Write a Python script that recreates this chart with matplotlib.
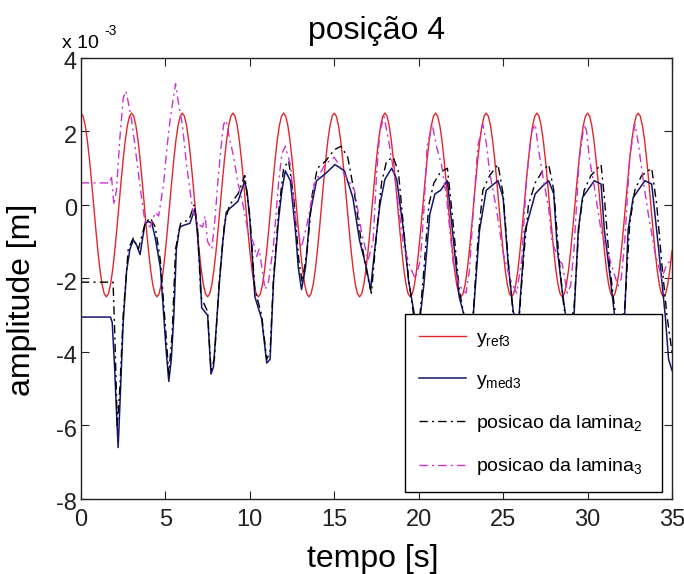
import numpy as np
import matplotlib
matplotlib.use("Agg")
import matplotlib.pyplot as plt
import matplotlib.transforms as mtransforms

plt.rcParams['font.family'] = ['Liberation Sans', 'DejaVu Sans']
plt.rcParams['mathtext.fontset'] = 'custom'
plt.rcParams['mathtext.rm'] = 'Liberation Sans'
plt.rcParams['mathtext.it'] = 'Liberation Sans'

# reference signal y_ref3, sampled every 0.125 s (units of 1e-3 m)
t_ref3 = np.arange(0, 35.001, 0.125)
y_ref3 = [
    2.5, 2.415, 2.165, 1.768, 1.25, 0.647, 0.0, -0.647, -1.25, -1.768, -2.165, -2.415,
    -2.5, -2.415, -2.165, -1.768, -1.25, -0.647, 0.0, 0.647, 1.25, 1.768, 2.165, 2.415,
    2.5, 2.415, 2.165, 1.768, 1.25, 0.647, 0.0, -0.647, -1.25, -1.768, -2.165, -2.415,
    -2.5, -2.415, -2.165, -1.768, -1.25, -0.647, 0.0, 0.647, 1.25, 1.768, 2.165, 2.415,
    2.5, 2.415, 2.165, 1.768, 1.25, 0.647, 0.0, -0.647, -1.25, -1.768, -2.165, -2.415,
    -2.5, -2.415, -2.165, -1.768, -1.25, -0.647, 0.0, 0.647, 1.25, 1.768, 2.165, 2.415,
    2.5, 2.415, 2.165, 1.768, 1.25, 0.647, 0.0, -0.647, -1.25, -1.768, -2.165, -2.415,
    -2.5, -2.415, -2.165, -1.768, -1.25, -0.647, 0.0, 0.647, 1.25, 1.768, 2.165, 2.415,
    2.5, 2.415, 2.165, 1.768, 1.25, 0.647, 0.0, -0.647, -1.25, -1.768, -2.165, -2.415,
    -2.5, -2.415, -2.165, -1.768, -1.25, -0.647, 0.0, 0.647, 1.25, 1.768, 2.165, 2.415,
    2.5, 2.415, 2.165, 1.768, 1.25, 0.647, 0.0, -0.647, -1.25, -1.768, -2.165, -2.415,
    -2.5, -2.415, -2.165, -1.768, -1.25, -0.647, 0.0, 0.647, 1.25, 1.768, 2.165, 2.415,
    2.5, 2.415, 2.165, 1.768, 1.25, 0.647, 0.0, -0.647, -1.25, -1.768, -2.165, -2.415,
    -2.5, -2.415, -2.165, -1.768, -1.25, -0.647, 0.0, 0.647, 1.25, 1.768, 2.165, 2.415,
    2.5, 2.415, 2.165, 1.768, 1.25, 0.647, 0.0, -0.647, -1.25, -1.768, -2.165, -2.415,
    -2.5, -2.415, -2.165, -1.768, -1.25, -0.647, 0.0, 0.647, 1.25, 1.768, 2.165, 2.415,
    2.5, 2.415, 2.165, 1.768, 1.25, 0.647, 0.0, -0.647, -1.25, -1.768, -2.165, -2.415,
    -2.5, -2.415, -2.165, -1.768, -1.25, -0.647, 0.0, 0.647, 1.25, 1.768, 2.165, 2.415,
    2.5, 2.415, 2.165, 1.768, 1.25, 0.647, 0.0, -0.647, -1.25, -1.768, -2.165, -2.415,
    -2.5, -2.415, -2.165, -1.768, -1.25, -0.647, 0.0, 0.647, 1.25, 1.768, 2.165, 2.415,
    2.5, 2.415, 2.165, 1.768, 1.25, 0.647, 0.0, -0.647, -1.25, -1.768, -2.165, -2.415,
    -2.5, -2.415, -2.165, -1.768, -1.25, -0.647, 0.0, 0.647, 1.25, 1.768, 2.165, 2.415,
    2.5, 2.415, 2.165, 1.768, 1.25, 0.647, 0.0, -0.647, -1.25, -1.768, -2.165, -2.415,
    -2.5, -2.415, -2.165, -1.768, -1.25,
]

# measured position y_med3: (time [s], value [1e-3 m])
med3 = [
    (0, -3.05), (1.75, -3.05), (1.85, -3.2), (2.0, -4.5), (2.1, -5.6), (2.2, -6.6),
    (2.3, -5.5), (2.5, -3.2), (2.7, -1.8), (2.9, -1.2), (3.1, -0.95), (3.3, -1.1),
    (3.5, -1.35), (3.65, -0.9), (3.8, -0.5), (4.0, -0.45), (4.2, -0.5), (4.4, -0.9),
    (4.7, -1.7), (4.9, -3.0), (5.05, -4.0), (5.2, -4.8), (5.35, -4.2), (5.5, -3.0),
    (5.65, -1.2), (5.85, -0.6), (6.1, -0.55), (6.45, -0.5), (6.75, -0.1), (6.9, -0.8),
    (7.05, -1.8), (7.15, -2.8), (7.5, -3.0), (7.6, -3.8), (7.7, -4.6), (7.85, -4.4),
    (8.0, -3.4), (8.2, -2.1), (8.4, -1.0), (8.6, -0.2), (8.8, -0.1), (9.3, 0.1),
    (9.7, 0.66), (9.85, 0.3), (10.0, -0.4), (10.3, -2.5), (10.7, -3.1), (10.9, -3.9),
    (11.0, -4.3), (11.2, -4.2), (11.4, -2.1), (11.7, -0.4), (11.9, 0.4), (12.1, 0.93),
    (12.4, 0.66), (12.7, -0.7), (12.87, -1.7), (13.06, -2.3), (13.3, -1.7), (13.56, -0.25),
    (13.95, 0.66), (14.45, 0.84), (15.04, 1.1), (15.6, 0.93), (16.1, 0.2), (16.5, -0.97),
    (16.9, -1.7), (17.15, -2.3), (17.4, -1.2), (17.7, 0.0), (18.0, 0.7), (18.4, 1.0),
    (18.7, 0.7), (19.1, -0.7), (19.4, -2.06), (19.75, -3.0), (20.0, -3.4), (20.3, -2.2),
    (20.66, -0.25), (20.96, 0.3), (21.3, 0.4), (21.7, 0.66), (22.0, -0.7), (22.4, -2.5),
    (22.8, -3.2), (23.2, -3.2), (23.6, -0.7), (24.0, 0.4), (24.4, 0.55), (24.7, 0.66),
    (25.0, 0.2), (25.3, -1.6), (25.6, -2.9), (25.9, -3.3), (26.1, -2.0), (26.3, -0.7),
    (26.9, 0.3), (27.3, 0.5), (27.7, 0.66), (28.0, 0.3), (28.2, -1.15), (28.46, -2.2),
    (28.7, -3.0), (29.0, -3.3), (29.2, -3.0), (29.45, -0.7), (29.7, 0.2), (30.0, 0.4),
    (30.4, 0.66), (30.8, 0.57), (31.0, -0.7), (31.4, -2.2), (31.6, -3.0), (31.9, -3.3),
    (32.2, -3.0), (32.4, -0.7), (32.7, 0.2), (33.0, 0.4), (33.4, 0.66), (33.8, 0.57),
    (34.2, -1.15), (34.6, -3.0), (34.8, -4.2), (35.0, -4.5),
]

# blade position 2
lamina2 = [
    (0, -2.1), (1.9, -2.1), (2.0, -3.5), (2.15, -6.0), (2.3, -5.0), (2.5, -3.0),
    (2.8, -1.2), (3.1, -0.9), (3.4, -1.2), (3.8, -0.5), (4.1, -0.35), (4.4, -0.6),
    (4.7, -1.5), (5.0, -3.3), (5.2, -4.6), (5.4, -3.5), (5.6, -1.2), (5.9, -0.5),
    (6.4, -0.4), (6.7, 0.0), (6.9, -0.6), (7.1, -2.5), (7.5, -2.9), (7.7, -4.5),
    (7.9, -4.2), (8.2, -2.0), (8.5, -0.5), (8.8, 0.0), (9.3, 0.3), (9.7, 0.8),
    (10.0, -0.3), (10.3, -2.3), (10.7, -3.0), (11.0, -4.2), (11.2, -4.0), (11.4, -2.0),
    (11.7, -0.2), (12.0, 1.0), (12.3, 1.2), (12.6, 0.2), (12.9, -1.5), (13.1, -2.1),
    (13.4, -1.2), (13.7, 0.3), (14.0, 1.0), (14.5, 1.2), (15.0, 1.5), (15.4, 1.6),
    (15.8, 1.3), (16.2, 0.3), (16.6, -1.0), (17.0, -2.0), (17.2, -2.4), (17.5, -0.8),
    (17.8, 0.6), (18.1, 1.2), (18.5, 1.3), (18.8, 0.9), (19.1, -0.6), (19.4, -2.0),
    (19.7, -3.0), (20.0, -3.4), (20.3, -1.8), (20.6, 0.0), (20.9, 0.6), (21.3, 0.9),
    (21.7, 1.0), (22.0, -0.3), (22.4, -2.3), (22.8, -3.3), (23.2, -3.2), (23.5, -1.0),
    (23.8, 0.4), (24.2, 0.8), (24.7, 1.1), (25.0, 0.3), (25.3, -1.5), (25.6, -3.0),
    (25.9, -3.4), (26.2, -1.5), (26.5, 0.0), (26.9, 0.6), (27.3, 0.9), (27.7, 1.1),
    (28.0, 0.4), (28.3, -1.4), (28.6, -2.8), (28.9, -3.4), (29.2, -2.8), (29.5, -0.5),
    (29.8, 0.4), (30.2, 0.8), (30.8, 1.1), (31.0, 0.2), (31.3, -1.6), (31.6, -2.8),
    (31.9, -3.4), (32.2, -2.8), (32.5, -0.5), (32.8, 0.4), (33.2, 0.8), (33.8, 1.0),
    (34.1, 0.0), (34.4, -1.6), (34.7, -3.0), (35.0, -4.0),
]

# blade position 3
lamina3 = [
    (0, 0.6), (1.7, 0.6), (1.8, 0.8), (1.95, 0.0), (2.1, 0.4), (2.3, 1.8),
    (2.5, 2.9), (2.65, 3.1), (2.8, 2.8), (3.0, 2.3), (3.2, 1.6), (3.5, 0.5),
    (3.8, -0.5), (4.1, -0.6), (4.4, -0.2), (4.6, -0.3), (4.9, 0.6), (5.1, 1.6),
    (5.3, 2.4), (5.5, 3.0), (5.6, 3.3), (5.8, 2.7), (6.0, 2.2), (6.25, 1.1),
    (6.6, -0.1), (6.9, -0.5), (7.2, -0.6), (7.35, -0.3), (7.5, -1.0), (7.75, -1.2),
    (7.95, -0.3), (8.1, 0.6), (8.3, 1.6), (8.45, 2.2), (8.6, 2.3), (8.8, 1.8),
    (9.0, 1.4), (9.3, 0.6), (9.6, 0.0), (9.9, -0.75), (10.2, -1.0), (10.4, -1.4),
    (10.55, -1.2), (10.9, -2.3), (11.1, -2.1), (11.4, -1.1), (11.7, 0.6), (11.9, 1.4),
    (12.1, 1.6), (12.4, 1.1), (12.7, -0.4), (13.06, -1.15), (13.4, -0.5), (13.85, 0.6),
    (14.45, 1.1), (15.0, 1.3), (15.6, 0.84), (16.2, 0.4), (16.6, -0.7), (17.0, -1.5),
    (17.3, -1.0), (17.5, 0.8), (17.7, 2.0), (17.95, 2.4), (18.2, 1.8), (18.6, 0.7),
    (19.1, -1.1), (19.5, -1.7), (19.8, -2.0), (20.1, -1.5), (20.3, -0.2), (20.5, 1.6),
    (20.8, 2.2), (21.05, 1.6), (21.35, 1.1), (21.65, 0.2), (22.05, -1.6), (22.4, -2.2),
    (22.8, -2.4), (23.0, -1.8), (23.2, -0.4), (23.5, 1.6), (23.8, 2.2), (24.0, 1.7),
    (24.2, 0.9), (24.6, -0.1), (25.0, -1.3), (25.4, -2.0), (25.8, -2.4), (26.1, -1.5),
    (26.4, 0.8), (26.7, 2.0), (26.9, 2.2), (27.1, 1.5), (27.4, 0.66), (27.7, -0.1),
    (27.9, -1.0), (28.3, -1.5), (28.5, -1.6), (28.8, -2.4), (29.0, -2.2), (29.2, -1.2),
    (29.5, 1.2), (29.8, 2.2), (29.95, 2.0), (30.1, 1.3), (30.4, 0.5), (30.8, -0.7),
    (31.4, -1.6), (31.8, -2.2), (32.0, -2.0), (32.2, -1.0), (32.5, 1.3), (32.8, 2.2),
    (33.0, 1.7), (33.3, 0.66), (33.6, -0.25), (34.0, -1.3), (34.4, -2.0), (34.7, -1.6),
    (35.0, -1.5),
]

x_ticks = [0, 5, 10, 15, 20, 25, 30, 35]
y_ticks = [-8, -6, -4, -2, 0, 2, 4]

fig = plt.figure(figsize=(6.84, 5.74), dpi=100)
ax = fig.add_axes([0.1184, 0.1307, 0.864, 0.7683])

dashdot = (0, (6, 3, 1.5, 3))
t_m, v_m = zip(*med3)
t_2, v_2 = zip(*lamina2)
t_3, v_3 = zip(*lamina3)
ax.plot(t_ref3, y_ref3, color='#e3262b', lw=1.0, label=r'$\mathrm{y_{ref3}}$')
ax.plot(t_m, v_m, color='#14146e', lw=1.1, label=r'$\mathrm{y_{med3}}$')
ax.plot(t_2, v_2, color='black', lw=1.0, linestyle=dashdot,
        label=r'posicao da $\mathrm{lamina_2}$')
ax.plot(t_3, v_3, color='#cc33cc', lw=1.0, linestyle=dashdot,
        label=r'posicao da $\mathrm{lamina_3}$')

ax.set_xlim(0, 35)
ax.set_ylim(-8, 4)
ax.set_xticks(x_ticks)
ax.set_yticks(y_ticks)
ax.set_yticklabels([str(v) for v in y_ticks])
ax.tick_params(direction='in', top=True, right=True, length=6, width=0.8,
               labelsize=17, colors='#222222')
ax.tick_params(axis='x', pad=7)
ax.tick_params(axis='y', pad=3)
# y tick labels sit slightly below their ticks
shift_down = mtransforms.ScaledTranslation(0, -3 / 100, fig.dpi_scale_trans)
for lbl in ax.get_yticklabels():
    lbl.set_transform(lbl.get_transform() + shift_down)
for s in ax.spines.values():
    s.set_linewidth(1.0)
    s.set_color('#222222')

ax.set_title('posição 4', fontsize=23, pad=14)
fig.text(0.032, 0.478, 'amplitude [m]', rotation=90, fontsize=23,
         ha='center', va='center')
fig.text(0.545, 0.012, 'tempo [s]', fontsize=23, ha='center', va='baseline')
# axis multiplier written above the y axis
fig.text(62 / 684, 1 - 48 / 574, 'x 10', fontsize=14, ha='left', va='baseline')
fig.text(104 / 684, 1 - 35 / 574, '-3', fontsize=10, ha='left', va='baseline')

leg = ax.legend(loc='lower left', bbox_to_anchor=(0.548, 0.016, 0.435, 0.406),
                mode='expand', fontsize=14, handlelength=2.4, labelspacing=1.15,
                borderaxespad=0, borderpad=0.75, fancybox=False, framealpha=1,
                handletextpad=0.5)
leg.get_frame().set_edgecolor('black')
leg.get_frame().set_linewidth(1.0)

fig.savefig('out.png', dpi=100)
